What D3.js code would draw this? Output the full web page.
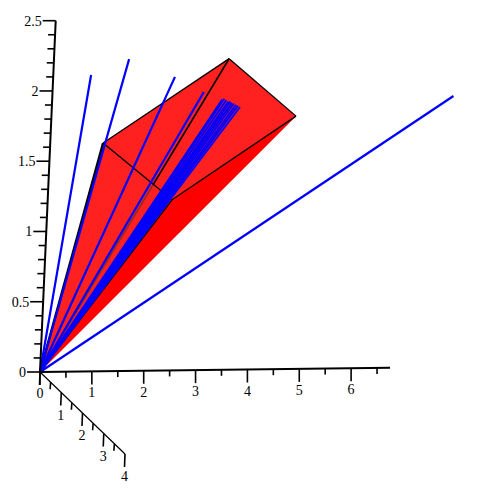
<!DOCTYPE html>
<html>
<head>
<meta charset="utf-8">
<script src="https://d3js.org/d3.v7.min.js"></script>
<style>
html,body{margin:0;padding:0;background:#fff;}
text{font-family:"Liberation Serif",serif;font-size:14px;fill:#000;}
</style>
</head>
<body>
<svg></svg>
<script>
var WIDTH = 487;
var HEIGHT = 502;

// tick values for the three axes
var xMajor = [0,1,2,3,4,5,6];
var xMinor = [0.5,1.5,2.5,3.5,4.5,5.5,6.5];
var depthMajor = [0,1,2,3,4];
var depthMinor = [0.5,1.5,2.5,3.5];
var zMajor = [0,0.5,1,1.5,2,2.5];
var zMinor = [0.1,0.2,0.3,0.4,0.6,0.7,0.8,0.9,1.1,1.2,1.3,1.4,1.6,1.7,1.8,1.9,2.1,2.2,2.3,2.4];

var cornerA = [1.02,1.625];
var cornerB = [3.38,2.215];
var cornerC = [4.72,1.80];
var cornerD = [2.40,1.215];
var apex = [0,0];
var hiddenEnd = [2.03,1.33]; // where the apex-B edge comes out of the red

// blue rays, all start at the apex
var rayX = [0.73,1.45,2.35,2.92,7.74];
var rayZ = [2.11,2.22,2.09,1.98,1.93];
var fanX = [3.28,3.32,3.36,3.40,3.44,3.47,3.51,3.55,3.59,3.63];
var fanZ = [1.925,1.93,1.92,1.91,1.91,1.90,1.895,1.885,1.88,1.87];

var svg = d3.select('svg')
  .attr('width',WIDTH)
  .attr('height',HEIGHT)
  .style('display','block');

// scales return [px,py], d3 interpolates the arrays
var xScale = d3.scaleLinear().domain([0,6.75]).range([[40,372],[390,367.8]]);
var depthScale = d3.scaleLinear().domain([0,4]).range([[40,372],[125,454]]);
var zScale = d3.scaleLinear().domain([0,2.5]).range([[40,372],[55.7,20.7]]);

var project = function(p){
  var a = xScale(p[0]);
  var b = zScale(p[1]);
  return [a[0]+b[0]-40, a[1]+b[1]-372];
};

var line = d3.line();

var addFace = function(points,color){
  svg.append('path')
    .attr('d',line(points.map(project))+'Z')
    .attr('fill',color);
};

var addEdge = function(from,to,color,width){
  svg.append('path')
    .attr('d',line([from,to].map(project)))
    .attr('fill','none')
    .attr('stroke',color)
    .attr('stroke-width',width);
};

addFace([apex,cornerD,cornerC],'#ff0000');
addFace([apex,cornerA,cornerD],'#ff2020');
addFace([cornerA,cornerB,cornerC,cornerD],'#ff2020');

addEdge(apex,hiddenEnd,'#8f2a20',1.6);
addEdge(hiddenEnd,cornerB,'#000',1.7);
addEdge(apex,cornerA,'#000',2.4);
addEdge(apex,cornerD,'#000',1.3);
addEdge(cornerA,cornerB,'#000',1.3);
addEdge(cornerB,cornerC,'#000',1.3);
addEdge(cornerC,cornerD,'#000',1.3);
addEdge(cornerD,cornerA,'#000',1.3);

rayX.forEach(function(x,i){
  addEdge(apex,[x,rayZ[i]],'#0000ff',2.2);
});
fanX.forEach(function(x,i){
  addEdge(apex,[x,fanZ[i]],'#0000ff',1.9);
});

// axes
var axisLine = function(scale,width){
  // the interpolator reuses its output array, so copy each end
  var ends = scale.domain().map(function(d){ return scale(d).slice(); });
  svg.append('path')
    .attr('d',line(ends))
    .attr('fill','none')
    .attr('stroke','#000')
    .attr('stroke-width',width);
};

var addTicks = function(values,scale,dx,dy){
  svg.append('g').selectAll('line').data(values).enter().append('line')
    .attr('x1',function(d){ return scale(d)[0]; })
    .attr('y1',function(d){ return scale(d)[1]; })
    .attr('x2',function(d){ return scale(d)[0]+dx; })
    .attr('y2',function(d){ return scale(d)[1]+dy; })
    .attr('stroke','#000')
    .attr('stroke-width',1.6);
};

axisLine(xScale,2);
axisLine(depthScale,1.2);
axisLine(zScale,2);

addTicks(xMajor,xScale,0,13);
addTicks(xMinor,xScale,0,6);
addTicks(depthMajor,depthScale,-0.5,13);
addTicks(depthMinor,depthScale,-0.5,7);
addTicks(zMajor,zScale,-13,0);
addTicks(zMinor,zScale,-7,0);

svg.append('g').selectAll('text').data(xMajor).enter().append('text')
  .attr('x',function(d){ return xScale(d)[0]; })
  .attr('y',function(d){ return xScale(d)[1]+26; })
  .attr('text-anchor','middle')
  .text(function(d){ return d; });

svg.append('g').selectAll('text').data(depthMajor.slice(1)).enter().append('text')
  .attr('x',function(d){ return depthScale(d)[0]-0.5; })
  .attr('y',function(d){ return depthScale(d)[1]+27; })
  .attr('text-anchor','middle')
  .text(function(d){ return d; });

svg.append('g').selectAll('text').data(zMajor).enter().append('text')
  .attr('x',function(d){ return zScale(d)[0]-14; })
  .attr('y',function(d){ return zScale(d)[1]+5; })
  .attr('text-anchor','end')
  .text(function(d){ return d; });
</script>
</body>
</html>
